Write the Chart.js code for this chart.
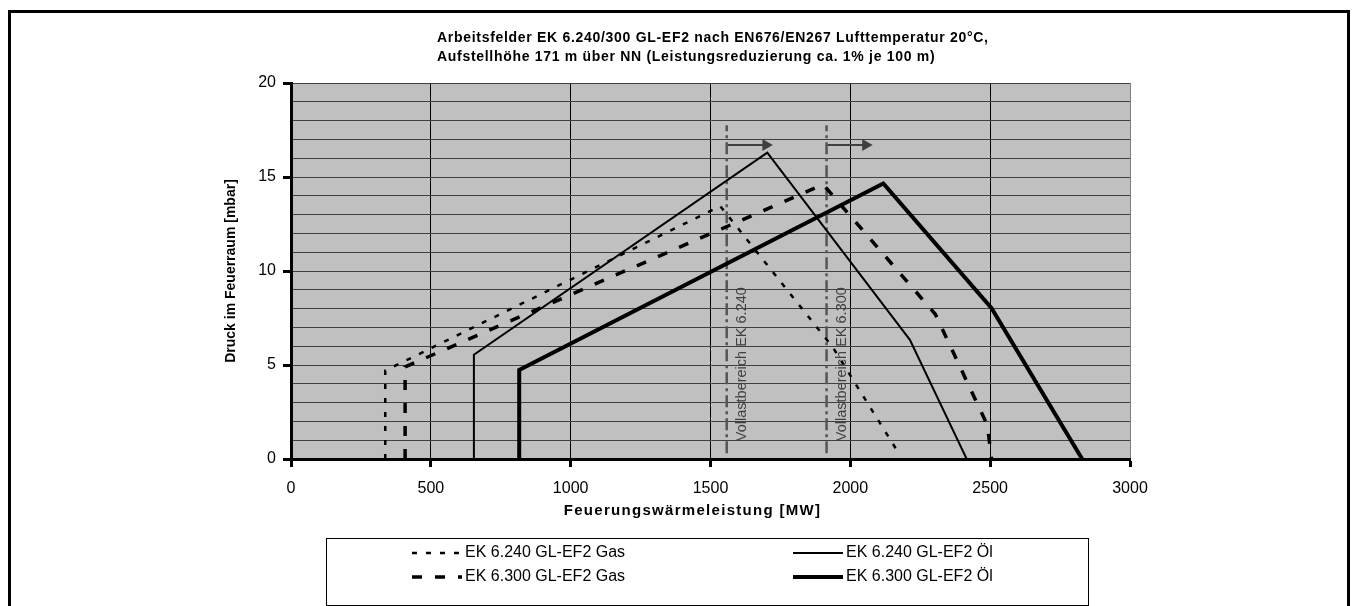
<!DOCTYPE html>
<html>
<head>
<meta charset="utf-8">
<script src="https://cdn.jsdelivr.net/npm/chart.js@4.4.1/dist/chart.umd.min.js"></script>
<style>
  html, body { margin: 0; padding: 0; background: #fff; }
  #wrap { width: 1358px; height: 606px; position: relative; }
</style>
</head>
<body>
<div id="wrap"><canvas id="chart"></canvas></div>
<script>
// Feuerungswärmeleistung [MW] (x) / Druck im Feuerraum [mbar] (y)
const gas240X = [337, 337, 1535, 1937, 2165];
const gas240Y = [0, 4.7, 13.45, 5.95, 0.5];
const gas300X = [408, 408, 1903, 2304, 2490, 2505];
const gas300Y = [0, 4.9, 14.6, 7.7, 1.8, 0];
const oel240X = [654, 654, 1703, 2213, 2416];
const oel240Y = [0, 5.55, 16.3, 6.34, 0];
const oel300X = [816, 816, 2118, 2505, 2829];
const oel300Y = [0, 4.74, 14.66, 8.02, 0];

const serienNamen = ['EK 6.240 GL-EF2 Gas', 'EK 6.300 GL-EF2 Gas', 'EK 6.240 GL-EF2 Öl', 'EK 6.300 GL-EF2 Öl'];

const xMin = 0, xMax = 3000, xSchritt = 500;
const yMin = 0, yMax = 20, yBeschriftung = 5;

// Vollastbereich-Markierungen
const vollastX = [1558, 1915];
const vollastNamen = ['Vollastbereich EK 6.240', 'Vollastbereich EK 6.300'];
const vollastVon = 0.3, vollastBis = 17.75;
const pfeilY = 16.7, pfeilLaenge = 140;

const titelZeilen = [
    'Arbeitsfelder EK 6.240/300 GL-EF2 nach EN676/EN267 Lufttemperatur 20°C,',
    'Aufstellhöhe 171 m über NN (Leistungsreduzierung ca. 1% je 100 m)'
];
const xTitel = 'Feuerungswärmeleistung [MW]';
const yTitel = 'Druck im Feuerraum [mbar]';

const FONT = '"Liberation Sans", Arial, sans-serif';
Chart.defaults.font.family = FONT;
Chart.defaults.color = '#000';

const punkte = (xs, ys) => xs.map((x, i) => ({ x: x, y: ys[i] }));

const serien = [
    { label: serienNamen[0], data: punkte(gas240X, gas240Y), borderWidth: 2.5, borderDash: [5, 9] },
    { label: serienNamen[1], data: punkte(gas300X, gas300Y), borderWidth: 3.5, borderDash: [10, 13] },
    { label: serienNamen[2], data: punkte(oel240X, oel240Y), borderWidth: 2, borderDash: [] },
    { label: serienNamen[3], data: punkte(oel300X, oel300Y), borderWidth: 4, borderDash: [] }
].map(s => Object.assign(s, { borderColor: '#000', pointRadius: 0, tension: 0, fill: false, imLegend: true }));

const markierungen = [];
vollastX.forEach(vx => {
    markierungen.push({
        data: [{ x: vx, y: vollastVon }, { x: vx, y: vollastBis }],
        borderColor: '#555', borderWidth: 2.5, borderDash: [12, 4, 3, 4], pointRadius: 0
    });
    markierungen.push({
        data: [{ x: vx, y: pfeilY }, { x: vx + pfeilLaenge, y: pfeilY }],
        borderColor: '#404040', borderWidth: 2, pointRadius: [0, 7],
        pointStyle: 'triangle', pointRotation: 90,
        pointBackgroundColor: '#404040', pointBorderColor: '#404040', pointBorderWidth: 0
    });
});

const hintergrund = {
    id: 'hintergrund',
    beforeDraw(chart) {
        const { ctx, chartArea: a } = chart;
        ctx.save();
        ctx.fillStyle = '#fff';
        ctx.fillRect(0, 0, chart.width, chart.height);
        ctx.fillStyle = '#c0c0c0';
        ctx.fillRect(a.left, a.top, a.right - a.left, a.bottom - a.top);
        ctx.restore();
    },
    afterDraw(chart) {
        const { ctx, chartArea: a } = chart;
        ctx.save();
        // Rahmen
        ctx.strokeStyle = '#000';
        ctx.lineWidth = 3;
        ctx.strokeRect(9.5, 11.5, chart.width - 19, 700);
        // Titel
        ctx.fillStyle = '#000';
        ctx.font = 'bold 14px ' + FONT;
        ctx.letterSpacing = '0.7px';
        ctx.textBaseline = 'middle';
        ctx.textAlign = 'left';
        titelZeilen.forEach((t, i) => ctx.fillText(t, 437, 38 + i * 19));
        // x-Achsentitel
        ctx.font = 'bold 15px ' + FONT;
        ctx.letterSpacing = '1.3px';
        ctx.textAlign = 'center';
        ctx.fillText(xTitel, (a.left + a.right) / 2 - 18, 511);
        ctx.letterSpacing = '0px';
        ctx.restore();
    }
};

const vollastText = {
    id: 'vollastText',
    afterDatasetsDraw(chart) {
        const { ctx, scales } = chart;
        ctx.save();
        ctx.fillStyle = '#404040';
        ctx.font = '14.5px ' + FONT;
        ctx.textAlign = 'left';
        ctx.textBaseline = 'middle';
        vollastX.forEach((vx, i) => {
            const px = scales.x.getPixelForValue(vx) + 15;
            const py = scales.y.getPixelForValue(0.95);
            ctx.save();
            ctx.translate(px, py);
            ctx.rotate(-Math.PI / 2);
            ctx.fillText(vollastNamen[i], 0, 0);
            ctx.restore();
        });
        ctx.restore();
    }
};

const legende = {
    id: 'legende',
    afterDraw(chart) {
        const ctx = chart.ctx;
        const box = { l: 326, t: 538, r: 1088, b: 605 };
        ctx.save();
        ctx.strokeStyle = '#000';
        ctx.lineWidth = 1;
        ctx.strokeRect(box.l + 0.5, box.t + 0.5, box.r - box.l, box.b - box.t);
        const spalten = [412, 793];
        const zeilen = [553, 577];
        const ds = chart.data.datasets.filter(d => d.imLegend);
        ds.forEach((d, i) => {
            const x0 = spalten[Math.floor(i / 2)];
            const y0 = zeilen[i % 2];
            ctx.beginPath();
            ctx.setLineDash(d.borderDash || []);
            ctx.lineWidth = d.borderWidth;
            ctx.strokeStyle = d.borderColor;
            ctx.moveTo(x0, y0);
            ctx.lineTo(x0 + 50, y0);
            ctx.stroke();
            ctx.setLineDash([]);
            ctx.fillStyle = '#000';
            ctx.font = '16px ' + FONT;
            ctx.textBaseline = 'middle';
            ctx.textAlign = 'left';
            ctx.fillText(d.label, x0 + 53, y0);
        });
        ctx.restore();
    }
};

new Chart(document.getElementById('chart'), {
    type: 'line',
    data: { datasets: serien.concat(markierungen) },
    options: {
        responsive: true,
        maintainAspectRatio: false,
        animation: false,
        layout: { padding: { left: 0, top: 83, right: 228, bottom: 87 } },
        plugins: { legend: { display: false }, title: { display: false }, tooltip: { enabled: false } },
        scales: {
            x: {
                type: 'linear', min: xMin, max: xMax,
                afterFit: s => { s.height = 60; },
                ticks: { stepSize: xSchritt, padding: 12, font: { size: 16 }, color: '#000', callback: v => String(v) },
                grid: {
                    color: c => (c.tick && c.tick.value === xMax) ? '#808080' : '#000',
                    lineWidth: 1, tickLength: 8, tickWidth: 3, tickColor: '#000'
                },
                border: { color: '#000', width: 3 },
                title: { display: false }
            },
            y: {
                type: 'linear', min: yMin, max: yMax,
                afterFit: s => { s.width = 291; },
                ticks: {
                    stepSize: 1, autoSkip: false, padding: 7, font: { size: 16 }, color: '#000',
                    callback: v => (v % yBeschriftung === 0 ? String(v) : '')
                },
                grid: {
                    color: '#404040', lineWidth: 1, tickLength: 8, tickWidth: 3,
                    tickColor: c => (c.tick && c.tick.value % yBeschriftung === 0) ? '#000' : 'rgba(0,0,0,0)'
                },
                border: { color: '#000', width: 3 },
                title: { display: true, text: yTitel, font: { size: 14, weight: 'bold' }, padding: { top: 223, bottom: 0 }, color: '#000' }
            }
        }
    },
    plugins: [hintergrund, vollastText, legende]
});
</script>
</body>
</html>
